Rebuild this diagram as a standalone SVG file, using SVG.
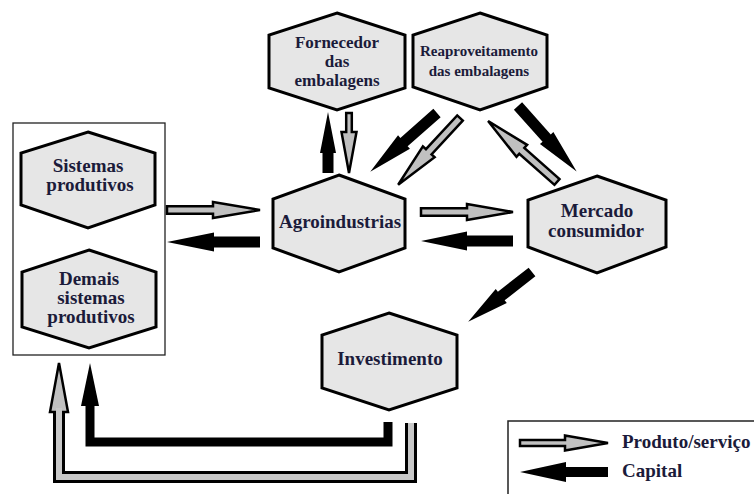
<svg xmlns="http://www.w3.org/2000/svg" width="754" height="494" viewBox="0 0 754 494">
<style>
.hex{fill:#e6e6e6;stroke:#000;stroke-width:3;stroke-linejoin:miter}
.t{font-family:"Liberation Serif","Times New Roman",serif;font-weight:bold;font-size:19px;fill:#1b1b3a;text-anchor:middle}
.ts{font-size:15px}
.tf{font-size:17px}
.lt{text-anchor:start}
.cap{fill:#000}
.prod{fill:#c0c0c0;stroke:#000;stroke-width:2.5;stroke-linejoin:miter}
</style>
<rect width="754" height="494" fill="#fff"/>
<rect x="13" y="123" width="152" height="232" fill="none" stroke="#222" stroke-width="1.3"/>
<g id="sistemas">
<polygon class="hex" points="88,132 155,153 155,205 88,228 21,205 21,153"/>
<text class="t" x="88" y="172">Sistemas</text>
<text class="t" x="90" y="191">produtivos</text>
</g>
<g id="demais">
<polygon class="hex" points="89,250 156,272 156,327 89,348 22,327 22,272"/>
<text class="t" x="89" y="285">Demais</text>
<text class="t" x="91" y="304">sistemas</text>
<text class="t" x="91" y="323">produtivos</text>
</g>
<g id="fornecedor">
<polygon class="hex" points="337,13 405,35 405,88 337,110 269,88 269,35"/>
<text class="t tf" x="337" y="48">Fornecedor</text>
<text class="t tf" x="337" y="67">das</text>
<text class="t tf" x="337" y="86">embalagens</text>
</g>
<g id="reaproveitamento">
<polygon class="hex" points="480,13 547,35 547,87 480,110 413,87 413,35"/>
<text class="t ts" x="479" y="56">Reaproveitamento</text>
<text class="t ts" x="479" y="76">das embalagens</text>
</g>
<g id="agroindustrias">
<polygon class="hex" points="339,175 405,199 405,248 339,272 273,248 273,199"/>
<text class="t" x="340" y="228">Agroindustrias</text>
</g>
<g id="mercado">
<polygon class="hex" points="597,176 666,200 666,247 597,273 528,247 528,200"/>
<text class="t" x="597" y="217">Mercado</text>
<text class="t" x="596" y="237">consumidor</text>
</g>
<g id="investimento">
<polygon class="hex" points="389,313 457,335 457,388 389,410 322,388 322,335"/>
<text class="t" x="390" y="365">Investimento</text>
</g>
<g id="connectors">
<polygon class="prod" transform="translate(167,210)" points="0,-3.8 46,-3.8 46,-8 93,0 46,8 46,3.8 0,3.8"/>
<polygon class="cap" transform="translate(260,242) rotate(180)" points="0,-5.5 46,-5.5 46,-9.5 93,0 46,9.5 46,5.5 0,5.5"/>
<polygon class="prod" transform="translate(421,212)" points="0,-3.8 46,-3.8 46,-8 92,0 46,8 46,3.8 0,3.8"/>
<polygon class="cap" transform="translate(513,241) rotate(180)" points="0,-5.5 46,-5.5 46,-9.5 92,0 46,9.5 46,5.5 0,5.5"/>
<polygon class="cap" transform="translate(328,173) rotate(-90)" points="0,-5.5 20,-5.5 20,-8 61,0 20,8 20,5.5 0,5.5"/>
<polygon class="prod" transform="translate(349,113) rotate(90)" points="0,-2.8 19,-2.8 19,-7.5 60,0 19,7.5 19,2.8 0,2.8"/>
<polygon class="cap" transform="translate(437,113) rotate(138.6)" points="0,-5.5 44,-5.5 44,-9 89,0 44,9 44,5.5 0,5.5"/>
<polygon class="prod" transform="translate(460,118) rotate(132.8)" points="0,-3.8 46,-3.8 46,-8 91,0 46,8 46,3.8 0,3.8"/>
<polygon class="prod" transform="translate(557,182) rotate(-138.5)" points="0,-3.8 47,-3.8 47,-8 92,0 47,8 47,3.8 0,3.8"/>
<polygon class="cap" transform="translate(518,106) rotate(48.2)" points="0,-5.5 43,-5.5 43,-9 88,0 43,9 43,5.5 0,5.5"/>
<polygon class="cap" transform="translate(532,272) rotate(142)" points="0,-5.5 39,-5.5 39,-9 81,0 39,9 39,5.5 0,5.5"/>
<polyline points="388,422 388,442 90,442 90,400" fill="none" stroke="#000" stroke-width="9" stroke-linejoin="miter"/>
<polygon class="cap" points="90,363 99,406 81,406"/>
<polyline points="411,423 411,477 59,477 59,412" fill="none" stroke="#000" stroke-width="12" stroke-linejoin="miter"/>
<polygon class="prod" points="59,363 68,412 50,412"/>
<polyline points="411,423 411,477 59,477 59,408" fill="none" stroke="#c8c8c8" stroke-width="6" stroke-linejoin="miter"/>
</g>
<g id="legend">
<rect x="508" y="421" width="260" height="90" fill="none" stroke="#222" stroke-width="1.5"/>
<polygon class="prod" transform="translate(520,443)" points="0,-3 45,-3 45,-7.5 88,0 45,7.5 45,3 0,3"/>
<polygon class="cap" transform="translate(608,472) rotate(180)" points="0,-5 42,-5 42,-10 88,0 42,10 42,5 0,5"/>
<text class="t lt" x="622" y="448">Produto/serviço</text>
<text class="t lt" x="622" y="477">Capital</text>
</g>
</svg>
